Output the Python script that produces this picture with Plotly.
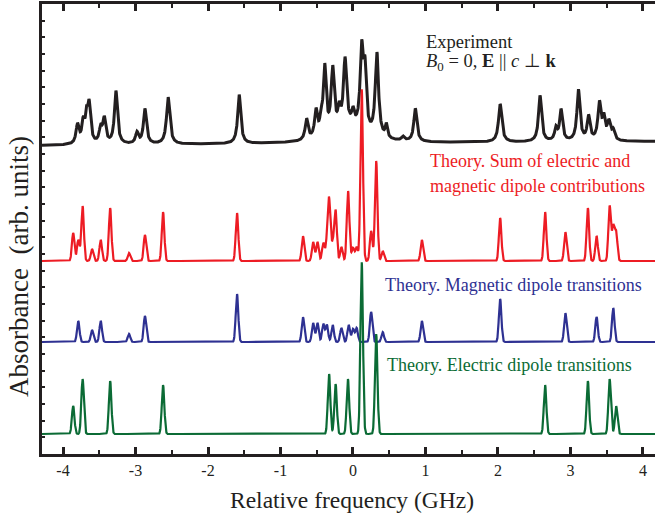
import numpy as np
import plotly.graph_objects as go

# ---- spectral data (frequency in GHz, intensity in arb. units) ----
# Experiment: line positions, peak intensities, half widths (Lorentzian)
exp_pos = [-3.80, -3.72, -3.675, -3.64, -3.48, -3.43, -3.27, -2.98, -2.87, -2.55,
           -1.57, -0.64, -0.51, -0.44, -0.39, -0.28, -0.19, -0.11, 0.00, 0.12,
           0.165, 0.33, 0.46, 0.69, 0.86, 2.03, 2.58, 2.80, 2.87, 3.11,
           3.25, 3.40, 3.46, 3.53, 3.59, -0.05]
exp_amp = [19, 21, 22, 38, 15, 24, 53, 11, 35, 47,
           49, 21, 27, 16, 68, 64, 18, 68, 14, 80,
           56, 84, 13, 4, 33, 38, 46, 12, 31, 51,
           24, 37, 20, 18, 9, 14]
exp_hw = [0.024, 0.024, 0.018, 0.024, 0.024, 0.024, 0.025, 0.024, 0.025, 0.027,
          0.025, 0.024, 0.024, 0.018, 0.024, 0.026, 0.022, 0.026, 0.022, 0.026,
          0.022, 0.027, 0.018, 0.024, 0.025, 0.027, 0.025, 0.022, 0.024, 0.025,
          0.024, 0.026, 0.022, 0.028, 0.022, 0.25]

# Theory: magnetic dipole transitions
mag_pos = [-3.79, -3.60, -3.48, -3.09, -2.87, -1.60, -0.69, -0.55, -0.49, -0.41,
           -0.36, -0.28, -0.16, -0.06, 0.00, 0.05, 0.25, 0.41, 0.95, 2.03,
           2.93, 3.36, 3.59]
mag_amp = [21, 12, 21, 8, 26, 48, 25, 19, 19, 18,
           17, 17, 14, 17, 13, 14, 30, 10, 21, 43,
           29, 25, 34]

# Theory: electric dipole transitions
ele_pos = [-3.86, -3.73, -3.35, -2.62, -0.33, -0.24, -0.07, 0.12, 0.32,
           2.65, 3.24, 3.54, 3.63]
ele_amp = [28, 55, 53, 49, 60, 50, 55, 172, 100,
           49, 53, 55, 28]

x_ticks = [-4, -3, -2, -1, 0, 1, 2, 3, 4]
x_tick_labels = ["-4", "-3", "-2", "-1", "0", "1", "2", "3", "4"]

# ---- line shapes ----
freq = np.linspace(-4.29, 4.17, 4000)


def gaussian_lines(pos, amp, sigma=0.0175):
    y = np.zeros_like(freq)
    for p, a in zip(pos, amp):
        y += a * np.exp(-((freq - p) ** 2) / (2 * sigma ** 2))
    return y


def lorentzian_lines(pos, amp, hw):
    y = np.zeros_like(freq)
    for p, a, w in zip(pos, amp, hw):
        y += a * w ** 2 / ((freq - p) ** 2 + w ** 2)
    return y


magnetic = gaussian_lines(mag_pos, mag_amp)
electric = gaussian_lines(ele_pos, ele_amp)
total = magnetic + electric
experiment = lorentzian_lines(exp_pos, exp_amp, exp_hw)

# vertical offsets of the stacked traces
OFF_EXP_L, OFF_EXP_R = 308.5, 312.5
OFF_SUM, OFF_MAG, OFF_ELE = 193, 112, 20
exp_base = OFF_EXP_L + (OFF_EXP_R - OFF_EXP_L) * (freq - freq[0]) / (freq[-1] - freq[0])

BLACK = "#231f20"
RED = "#ed1c24"
BLUE = "#2e3192"
GREEN = "#0b6b35"
FONT = "Liberation Serif"

fig = go.Figure()
fig.add_trace(go.Scatter(x=freq, y=experiment + exp_base, mode="lines",
                         line=dict(color=BLACK, width=3), showlegend=False))
fig.add_trace(go.Scatter(x=freq, y=total + OFF_SUM, mode="lines",
                         line=dict(color=RED, width=2.2), showlegend=False))
fig.add_trace(go.Scatter(x=freq, y=magnetic + OFF_MAG, mode="lines",
                         line=dict(color=BLUE, width=2.2), showlegend=False))
fig.add_trace(go.Scatter(x=freq, y=electric + OFF_ELE, mode="lines",
                         line=dict(color=GREEN, width=2.2), showlegend=False))

W, H = 655, 517
L, R, T, B = 42, 0, 4, 63


def px_x(p):
    return (p - L) / (W - L - R)


def px_y(p):
    return (H - B - p) / (H - B - T)


def label(text, x, y, color, size=18, anchor="left", angle=0):
    fig.add_annotation(text=text, xref="paper", yref="paper", x=px_x(x), y=px_y(y),
                       xanchor=anchor, yanchor="middle", showarrow=False,
                       textangle=angle, font=dict(family=FONT, size=size, color=color))


label("Experiment", 424, 42, BLACK, size=18.5)
label("<i>B</i><sub>0</sub> = 0, <b>E</b> || <i>c</i> \u22a5 <b>k</b>", 424, 63, BLACK, size=18.5)
label("Theory. Sum of electric and", 428, 161, RED)
label("magnetic dipole contributions", 428, 186, RED)
label("Theory. Magnetic dipole transitions", 383, 285, BLUE)
label("Theory. Electric dipole transitions", 385, 365, GREEN)
label("Relative frequency (GHz)", 352, 500, BLACK, size=23.5, anchor="center")
label("Absorbance\u00a0 (arb. units)", 19, 267, BLACK, size=27, anchor="center", angle=-90)

fig.update_xaxes(range=[-4.29, 4.166], tickvals=x_ticks, ticktext=x_tick_labels,
                 ticks="inside", ticklen=7, tickwidth=2.5, tickcolor=BLACK,
                 showline=True, linewidth=2.7, linecolor=BLACK, mirror="ticks",
                 showgrid=False, zeroline=False,
                 tickfont=dict(family=FONT, size=16, color=BLACK),
                 minor=dict(tickvals=[-4.5, -3.5, -2.5, -1.5, -0.5, 0.5, 1.5, 2.5, 3.5],
                            ticks="inside", ticklen=4, tickwidth=2, tickcolor=BLACK))
fig.update_yaxes(range=[0, 450], tick0=0, dtick=450 / 27, ticks="inside", ticklen=3,
                 tickwidth=1.5, tickcolor=BLACK, showticklabels=False,
                 showline=True, linewidth=2.7, linecolor=BLACK,
                 showgrid=False, zeroline=False)
fig.update_layout(width=W, height=H, margin=dict(l=L, r=R, t=T, b=B),
                  paper_bgcolor="white", plot_bgcolor="white",
                  font=dict(family=FONT))

fig.write_html("out.html")
